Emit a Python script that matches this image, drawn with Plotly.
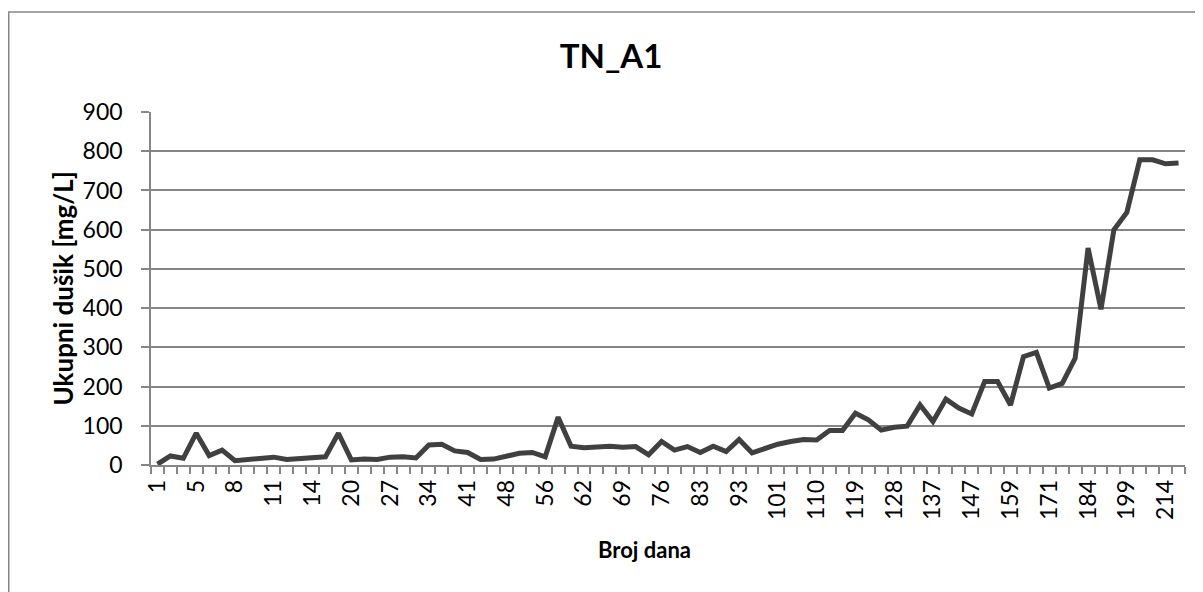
import plotly.graph_objects as go

days = [1, 2, 4, 5, 6, 7, 8, 9, 10, 11, 12, 13, 14, 16, 18, 20, 22, 25, 27, 29, 32,
        34, 36, 39, 41, 43, 46, 48, 50, 53, 56, 58, 60, 62, 64, 67, 69, 71, 74, 76,
        78, 81, 83, 86, 90, 93, 95, 98, 101, 104, 107, 110, 113, 116, 119, 122, 125,
        128, 131, 134, 137, 140, 143, 147, 151, 155, 159, 163, 167, 171, 175, 179,
        184, 189, 194, 199, 204, 209, 214, 219]
tn = [2, 23, 17, 81, 24, 38, 11, 15, 17, 20, 14, 17, 17, 21, 81, 13, 15, 14, 20, 21,
      18, 51, 53, 36, 32, 14, 15, 21, 30, 32, 21, 122, 48, 44, 47, 48, 45, 47, 26, 60,
      38, 47, 32, 48, 34, 65, 31, 43, 53, 60, 65, 64, 88, 88, 132, 115, 89, 96, 99,
      153, 111, 168, 145, 130, 213, 213, 153, 276, 287, 196, 208, 272, 553, 397, 600,
      644, 778, 778, 768, 770]
label_every = 3
title_text = "TN_A1"
y_title = "Ukupni dušik [mg/L]"
x_title = "Broj dana"

cats = [str(d) for d in days]
ticktext = [c if i % label_every == 0 else "" for i, c in enumerate(cats)]

# page body has an 8px margin; work in screen coordinates and subtract it
OFF = 8
W, H = 1203 - OFF, 592 - OFF
L, R, T, B = 151 - OFF, 1185 - OFF, 112 - OFF, 465 - OFF
pw, ph = R - L, B - T
grid = "#868686"

fig = go.Figure()
fig.add_trace(go.Scatter(x=cats, y=tn, mode="lines",
                         line=dict(color="#404040", width=5), showlegend=False))

fig.update_layout(
    width=W, height=H,
    margin=dict(l=L, r=W - R, t=T, b=H - B, pad=0),
    paper_bgcolor="white", plot_bgcolor="white",
    font=dict(family="Lato", size=23, color="black"),
    title=dict(text="<b>" + title_text + "</b>", xref="container", yref="container",
               x=(611 - OFF) / W, y=1 - (56 - OFF) / H, xanchor="center", yanchor="middle",
               font=dict(family="Lato", size=33, color="black")),
    xaxis=dict(type="category", categoryorder="array", categoryarray=cats,
               tickmode="array", tickvals=cats, ticktext=ticktext,
               tickson="boundaries", ticks="outside", ticklen=7, tickwidth=1.5,
               tickcolor=grid, showgrid=False, showline=True, linecolor=grid,
               linewidth=1.5, tickangle=-90, range=[-0.5, len(cats) - 0.5],
               ticklabelstandoff=4,
               tickfont=dict(family="Lato", size=23, color="black")),
    yaxis=dict(range=[0, 900], tickmode="linear", tick0=0, dtick=100,
               ticks="outside", ticklen=8, tickwidth=1.5, tickcolor=grid,
               showgrid=True, gridcolor=grid, gridwidth=1.5,
               showline=True, linecolor=grid, linewidth=1.5, zeroline=False,
               ticklabelstandoff=14,
               tickfont=dict(family="Lato", size=23, color="black")),
    annotations=[
        dict(text="<b>" + y_title + "</b>", xref="paper", yref="paper",
             x=0, y=0.5, xshift=62 - 151, xanchor="center", yanchor="middle",
             textangle=-90, showarrow=False,
             font=dict(family="Lato", size=26, color="black")),
        dict(text="<b>" + x_title + "</b>", xref="paper", yref="paper",
             x=(644 - 151) / pw, y=0, yshift=-(549 - 465), xanchor="center",
             yanchor="middle", showarrow=False,
             font=dict(family="Lato", size=22, color="black")),
    ],
    shapes=[
        dict(type="rect", xref="paper", yref="paper",
             x0=-(L - 0.75) / pw, x1=(1215 - 151) / pw,
             y0=(465 - 610) / ph, y1=(465 - 12) / ph,
             line=dict(color=grid, width=1.5), layer="below"),
    ],
)

fig.write_html("out.html")
